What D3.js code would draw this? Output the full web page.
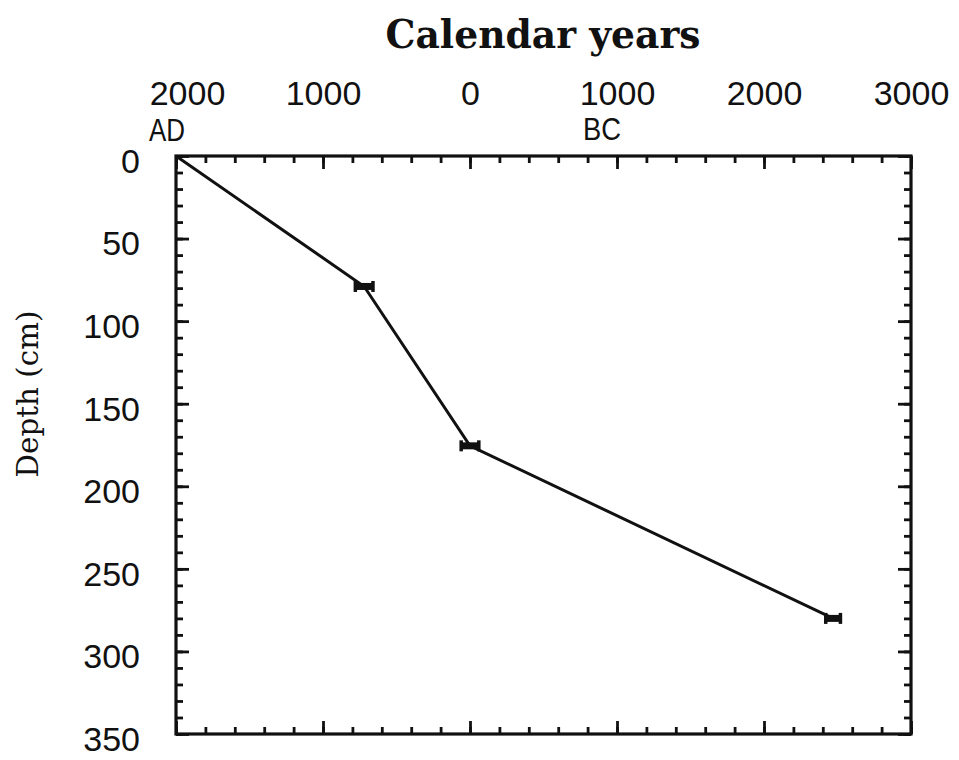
<!DOCTYPE html>
<html>
<head>
<meta charset="utf-8">
<script src="https://cdn.jsdelivr.net/npm/d3@7"></script>
<style>
  body { margin: 0; background: #fff; }
  svg { display: block; }
  .tick text { font-family: "Liberation Sans", Arial, sans-serif; font-size: 34px; fill: #111; }
</style>
</head>
<body>
<svg id="chart" width="959" height="760"></svg>
<script>
// calendar years: negative = AD, positive = BC
var yearTicks = [-2000, -1000, 0, 1000, 2000, 3000];
var yearMinorTicks = d3.range(-2000, 3001, 200);
var depthTicks = [0, 50, 100, 150, 200, 250, 300, 350];
var depthMinorTicks = d3.range(0, 351, 10);

// dated levels
var ages = [-2000, -720, 0, 2470];
var depths = [0, 79, 175.5, 280];
var ageErrors = [0, 60, 60, 50];

var plotLeft = 176, plotRight = 911, plotTop = 156, plotBottom = 734;
var majorLen = 13, minorLen = 7;

var svg = d3.select("#chart");

var x = d3.scaleLinear().domain([-2000, 3000]).range([plotLeft, plotRight]);
var y = d3.scaleLinear().domain([0, 350]).range([plotTop, plotBottom]);

function yearLabel(d) { return Math.abs(d); }

// top axis, labels above, ticks inward
var topMajor = svg.append("g").attr("transform", "translate(0," + plotTop + ")")
    .call(d3.axisTop(x).tickValues(yearTicks).tickFormat(yearLabel).tickSizeInner(-majorLen).tickSizeOuter(0).tickPadding(51));
topMajor.selectAll("text").attr("dx", function(d) { return d == -2000 ? 11 : 0; });
svg.append("g").attr("transform", "translate(0," + plotTop + ")")
    .call(d3.axisTop(x).tickValues(yearMinorTicks).tickFormat("").tickSizeInner(-minorLen).tickSizeOuter(0));

// bottom axis, ticks only
svg.append("g").attr("transform", "translate(0," + plotBottom + ")")
    .call(d3.axisBottom(x).tickValues(yearTicks).tickFormat("").tickSizeInner(-majorLen).tickSizeOuter(0));
svg.append("g").attr("transform", "translate(0," + plotBottom + ")")
    .call(d3.axisBottom(x).tickValues(yearMinorTicks).tickFormat("").tickSizeInner(-minorLen).tickSizeOuter(0));

// left axis with labels
var leftMajor = svg.append("g").attr("transform", "translate(" + plotLeft + ",0)")
    .call(d3.axisLeft(y).tickValues(depthTicks).tickSizeInner(-majorLen).tickSizeOuter(0).tickPadding(36));
leftMajor.selectAll("text").attr("dy", "0.48em");
svg.append("g").attr("transform", "translate(" + plotLeft + ",0)")
    .call(d3.axisLeft(y).tickValues(depthMinorTicks).tickFormat("").tickSizeInner(-minorLen).tickSizeOuter(0));

// right axis, ticks only
svg.append("g").attr("transform", "translate(" + plotRight + ",0)")
    .call(d3.axisRight(y).tickValues(depthTicks).tickFormat("").tickSizeInner(-majorLen).tickSizeOuter(0));
svg.append("g").attr("transform", "translate(" + plotRight + ",0)")
    .call(d3.axisRight(y).tickValues(depthMinorTicks).tickFormat("").tickSizeInner(-minorLen).tickSizeOuter(0));

svg.selectAll(".domain").remove();
svg.selectAll(".tick line").attr("stroke", "#111").attr("stroke-width", 2.8);

// frame
svg.append("rect")
    .attr("x", plotLeft).attr("y", plotTop)
    .attr("width", plotRight - plotLeft).attr("height", plotBottom - plotTop)
    .attr("fill", "none").attr("stroke", "#111").attr("stroke-width", 3.2);

// AD / BC markers
svg.append("text").attr("x", 149).attr("y", 141).text("AD")
    .style("font-family", "Liberation Sans, Arial, sans-serif").style("font-size", "32px").attr("fill", "#111")
    .attr("textLength", 36).attr("lengthAdjust", "spacingAndGlyphs");
svg.append("text").attr("x", 583).attr("y", 140).text("BC")
    .style("font-family", "Liberation Sans, Arial, sans-serif").style("font-size", "32px").attr("fill", "#111")
    .attr("textLength", 38).attr("lengthAdjust", "spacingAndGlyphs");

// titles
svg.append("text").attr("x", 543).attr("y", 48).attr("text-anchor", "middle")
    .text("Calendar years")
    .style("font-family", "DejaVu Serif, serif").style("font-weight", "bold").style("font-size", "40px")
    .attr("fill", "#111").attr("textLength", 315).attr("lengthAdjust", "spacingAndGlyphs");
svg.append("text")
    .attr("transform", "translate(38,394) rotate(-90)")
    .attr("text-anchor", "middle")
    .text("Depth (cm)")
    .style("font-family", "DejaVu Serif, serif").style("font-size", "29px")
    .attr("fill", "#111").attr("textLength", 167).attr("lengthAdjust", "spacingAndGlyphs");

// age-depth line
var points = ages.map(function(a, i) { return [a, depths[i]]; });
svg.append("path")
    .datum(points)
    .attr("fill", "none").attr("stroke", "#111").attr("stroke-width", 3)
    .attr("d", d3.line().x(function(d) { return x(d[0]); }).y(function(d) { return y(d[1]); }));

// error bars
var dated = points.map(function(p, i) { return { age: p[0], depth: p[1], err: ageErrors[i] }; })
    .filter(function(d) { return d.err > 0; });
var bars = svg.append("g").selectAll("g").data(dated).join("g");
bars.append("line")
    .attr("x1", function(d) { return x(d.age - d.err); })
    .attr("x2", function(d) { return x(d.age + d.err); })
    .attr("y1", function(d) { return y(d.depth); })
    .attr("y2", function(d) { return y(d.depth); })
    .attr("stroke", "#111").attr("stroke-width", 7);
[-1, 1].forEach(function(side) {
    bars.append("line")
        .attr("x1", function(d) { return x(d.age + side * d.err); })
        .attr("x2", function(d) { return x(d.age + side * d.err); })
        .attr("y1", function(d) { return y(d.depth) - 5.5; })
        .attr("y2", function(d) { return y(d.depth) + 5.5; })
        .attr("stroke", "#111").attr("stroke-width", 3.5);
});
</script>
</body>
</html>
